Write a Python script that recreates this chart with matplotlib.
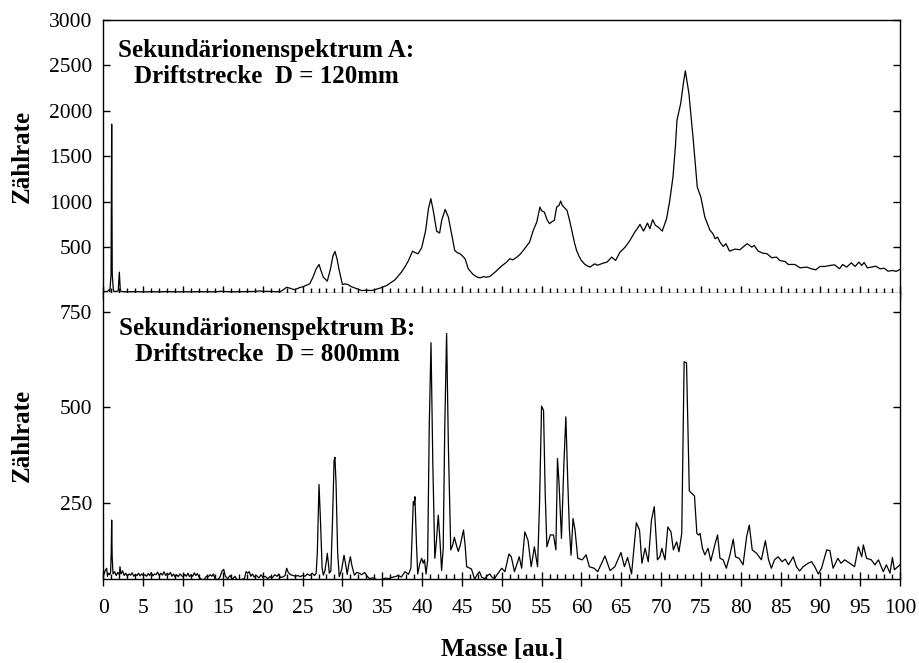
import matplotlib.pyplot as plt
from matplotlib.ticker import MultipleLocator

plt.rcParams['font.family'] = ['Liberation Serif', 'DejaVu Serif']

# ---------------------------------------------------------------- data
# spectrum A (D = 120mm): mass, counts
masseA = [0.0, 0.5, 0.7, 0.8, 0.95, 1.03, 1.1, 1.25, 1.6, 1.85, 1.99, 2.12, 2.4, 3.0, 4.0,
          5.0, 6.0, 7.0, 8.0, 9.0, 10.0, 11.0, 12.0, 13.0, 14.0, 14.8, 15.2, 16.0, 17.0, 18.0,
          19.0, 19.6, 20.0, 21.0, 22.2, 23.0, 23.5, 24.0, 24.5, 25.1, 25.9, 26.3, 26.7, 27.06,
          27.35, 27.6, 28.1, 28.5, 28.8, 29.06, 29.3, 29.6, 30.0, 30.3, 30.7, 31.1, 31.6, 32.4,
          33.0, 33.7, 34.2, 34.7, 35.55, 36.1, 36.6, 37.4, 37.9, 38.3, 38.8, 39.1, 39.5, 39.95,
          40.45, 40.8, 41.1, 41.4, 41.83, 42.2, 42.46, 42.9, 43.3, 43.7, 44.1, 44.4, 44.76,
          45.1, 45.4, 45.8, 46.4, 46.9, 47.3, 47.7, 48.1, 48.5, 48.9, 49.3, 49.6, 50.1, 50.6,
          51.0, 51.4, 51.9, 52.3, 52.7, 53.1, 53.5, 53.96, 54.4, 54.8, 55.0, 55.35, 55.7, 56.0,
          56.3, 56.6, 56.9, 57.2, 57.4, 57.6, 57.8, 58.2, 58.5, 58.8, 59.1, 59.4, 59.7, 60.0,
          60.45, 60.8, 61.1, 61.4, 61.7, 62.0, 62.3, 62.8, 63.2, 63.5, 63.8, 64.3, 64.85, 65.5,
          66.1, 66.7, 67.0, 67.35, 67.8, 68.3, 68.6, 68.95, 69.3, 69.65, 70.15, 70.7, 71.1,
          71.5, 71.8, 72.0, 72.47, 72.8, 73.05, 73.5, 74.05, 74.55, 75.0, 75.5, 76.15, 76.5,
          76.8, 77.1, 77.4, 77.8, 78.15, 78.6, 79.3, 79.9, 80.3, 80.8, 81.1, 81.4, 81.7, 82.2,
          82.75, 83.3, 83.9, 84.5, 84.9, 85.55, 85.98, 86.8, 87.45, 88.3, 88.9, 89.45, 89.95,
          90.6, 91.2, 91.8, 92.4, 92.8, 93.3, 93.9, 94.35, 94.85, 95.2, 95.5, 95.9, 96.45,
          96.95, 97.5, 98.0, 98.5, 99.1, 99.5, 100.0]
zaehlA = [10, 12, 30, 12, 200, 1853, 200, 15, 12, 18, 224, 18, 10, 8, 10,
          8, 9, 8, 10, 8, 9, 8, 10, 9, 8, 15, 12, 8, 9, 10,
          12, 18, 14, 12, 8, 58, 45, 30, 50, 66, 96, 169, 260, 309,
          230, 169, 125, 260, 400, 452, 380, 243, 88, 95, 88, 65, 48, 22,
          25, 22, 35, 48, 77, 110, 140, 224, 290, 353, 456, 440, 427, 493,
          684, 923, 1033, 904, 676, 654, 794, 915, 831, 647, 463, 440, 427,
          400, 372, 261, 199, 170, 162, 175, 169, 176, 206, 235, 261, 300, 334,
          372, 360, 390, 420, 463, 510, 555, 684, 776, 941, 900, 886, 800, 758,
          780, 794, 941, 960, 1007, 960, 941, 904, 800, 684, 560, 463, 400, 353,
          309, 290, 280, 300, 316, 300, 309, 325, 334, 360, 390, 353, 445, 500,
          574, 665, 700, 750, 676, 765, 702, 802, 739, 720, 676, 813, 1015,
          1272, 1600, 1897, 2081, 2300, 2441, 2192, 1677, 1161, 1051, 831, 684, 650,
          592, 610, 555, 507, 537, 456, 478, 471, 500, 537, 520, 500, 518, 456,
          434, 427, 383, 390, 353, 342, 309, 309, 272, 280, 261, 250, 287,
          287, 298, 305, 261, 309, 280, 327, 287, 334, 298, 331, 272, 280,
          290, 261, 268, 235, 243, 232, 254]

# spectrum B (D = 800mm)
masseB = [0.0, 0.2, 0.4, 0.5, 0.6, 0.8, 0.9, 0.97, 1.03, 1.09, 1.2, 1.4, 1.6, 1.8, 2.0,
          2.07, 2.2, 2.4, 2.6, 2.8, 3.0, 3.2, 3.4, 3.6, 3.8, 4.0, 4.2, 4.4, 4.6, 4.8, 5.0,
          5.2, 5.4, 5.6, 5.8, 6.0, 6.2, 6.4, 6.6, 6.8, 7.0, 7.2, 7.4, 7.6, 7.8, 8.0, 8.2,
          8.4, 8.6, 8.8, 9.0, 9.2, 9.4, 9.6, 9.8, 10.0, 10.2, 10.4, 10.6, 10.8, 11.0, 11.2,
          11.4, 11.6, 11.8, 12.0, 12.3, 12.6, 12.9, 13.1, 13.4, 13.6, 13.8, 14.0, 14.3, 14.6,
          14.9, 15.1, 15.3, 15.6, 15.9, 16.2, 16.5, 16.8, 17.1, 17.4, 17.7, 17.9, 18.1, 18.3,
          18.5, 18.7, 18.9, 19.2, 19.5, 19.8, 20.0, 20.3, 20.6, 20.9, 21.2, 21.5, 21.8, 22.0,
          22.2, 22.5, 22.8, 23.0, 23.2, 23.5, 23.8, 24.1, 24.4, 24.7, 25.0, 25.3, 25.6, 25.9,
          26.2, 26.5, 26.7, 26.85, 27.06, 27.25, 27.45, 27.6, 27.8, 28.0, 28.1, 28.25, 28.35,
          28.55, 28.75, 28.95, 29.06, 29.2, 29.4, 29.6, 29.9, 30.2, 30.4, 30.6, 30.8, 31.0,
          31.2, 31.5, 31.8, 32.1, 32.4, 32.8, 33.1, 33.4, 33.8, 34.2, 34.6, 35.0, 35.4, 35.8,
          36.2, 36.6, 37.0, 37.4, 37.85, 38.1, 38.3, 38.6, 38.9, 39.0, 39.1, 39.3, 39.45, 39.7,
          39.95, 40.15, 40.3, 40.5, 40.7, 40.9, 41.12, 41.35, 41.6, 41.8, 42.03, 42.25, 42.45,
          42.65, 42.85, 43.08, 43.3, 43.6, 43.85, 44.05, 44.3, 44.55, 44.8, 45.2, 45.4, 45.6,
          45.9, 46.2, 46.6, 46.9, 47.2, 47.5, 47.9, 48.2, 48.5, 48.8, 49.1, 49.5, 50.0, 50.4,
          50.9, 51.2, 51.6, 52.2, 52.5, 52.9, 53.3, 53.7, 54.1, 54.5, 54.75, 55.0, 55.25,
          55.45, 55.67, 56.1, 56.5, 56.8, 57.0, 57.2, 57.5, 57.8, 58.05, 58.3, 58.5, 58.7,
          58.95, 59.2, 59.55, 60.1, 60.6, 61.0, 61.6, 62.05, 62.96, 63.6, 64.2, 64.97, 65.4,
          65.8, 66.3, 66.9, 67.3, 67.6, 68.0, 68.4, 68.8, 69.15, 69.55, 69.85, 70.1, 70.5,
          70.85, 71.25, 71.55, 71.96, 72.25, 72.6, 72.9, 73.2, 73.55, 74.2, 74.5, 74.7, 74.9,
          75.2, 75.5, 75.9, 76.25, 76.8, 77.1, 77.4, 77.8, 78.2, 78.65, 79.07, 79.35, 79.8,
          80.3, 80.75, 81.08, 81.45, 82.0, 82.6, 83.1, 83.5, 83.85, 84.25, 84.7, 85.2, 85.6,
          86.0, 86.6, 87.0, 87.4, 87.85, 88.45, 88.9, 89.3, 89.75, 90.15, 90.8, 91.2, 91.6,
          92.2, 92.6, 93.05, 93.7, 94.3, 94.77, 95.2, 95.4, 95.8, 96.4, 96.85, 97.3, 97.9,
          98.3, 98.75, 99.05, 99.3, 100.0]
zaehlB = [60, 72, 79, 58, 66, 62, 70, 120, 205, 110, 64, 70, 60, 68, 62,
          83, 64, 72, 60, 66, 58, 64, 61, 67, 58, 63, 60, 66, 59, 64, 60,
          62, 58, 65, 60, 68, 59, 64, 62, 69, 60, 66, 61, 70, 60, 66, 62,
          68, 58, 64, 56, 62, 57, 64, 60, 56, 63, 58, 66, 57, 62, 58,
          67, 60, 65, 56, 50, 48, 58, 56, 62, 58, 64, 52, 48, 55,
          72, 76, 58, 52, 60, 50, 58, 48, 47, 50, 52, 70, 66, 70,
          58, 64, 56, 60, 54, 62, 55, 58, 52, 57, 54, 62, 58, 64,
          55, 56, 60, 79, 68, 62, 60, 58, 60, 57, 60, 58, 64, 60,
          66, 60, 65, 120, 298, 200, 80, 61, 72, 100, 118, 90, 66,
          72, 200, 360, 369, 300, 120, 57, 75, 113, 90, 63, 90, 109,
          85, 61, 68, 66, 62, 68, 58, 52, 54, 50, 48, 50, 53, 52,
          55, 57, 60, 56, 70, 66, 63, 80, 253, 245, 266, 140, 64, 90,
          105, 92, 101, 64, 100, 450, 669, 350, 105, 150, 218, 150, 73,
          130, 450, 693, 400, 127, 140, 160, 140, 123, 140, 179, 140, 83,
          80, 77, 50, 62, 70, 55, 52, 60, 64, 55, 52, 65, 79, 70,
          116, 109, 70, 109, 79, 174, 152, 83, 135, 83, 250, 503, 492,
          280, 135, 166, 166, 127, 366, 300, 157, 350, 475, 300, 180, 113,
          209, 179, 105, 101, 114, 83, 79, 70, 111, 73, 83, 120, 83,
          107, 64, 198, 179, 92, 131, 96, 205, 240, 101, 109, 131, 101,
          187, 174, 127, 148, 122, 170, 619, 616, 281, 268, 170, 166, 170,
          131, 114, 131, 98, 144, 166, 105, 101, 79, 114, 155, 109, 105,
          88, 162, 192, 127, 118, 101, 151, 101, 79, 101, 109, 96, 103,
          88, 109, 83, 72, 83, 92, 96, 83, 64, 79, 127, 125, 79,
          105, 92, 101, 92, 83, 135, 109, 140, 105, 101, 88, 101, 70,
          88, 66, 107, 75, 88]

yticksA = [500, 1000, 1500, 2000, 2500, 3000]
yticksB = [250, 500, 750]
xticks = [0, 5, 10, 15, 20, 25, 30, 35, 40, 45, 50, 55, 60, 65, 70, 75, 80, 85, 90, 95, 100]

# ---------------------------------------------------------------- figure
fig, (axA, axB) = plt.subplots(2, 1, figsize=(9.19, 6.63), dpi=100, sharex=True,
                               gridspec_kw={'height_ratios': [272.5, 286.8], 'hspace': 0})
fig.subplots_adjust(left=0.1126, right=0.9793, top=0.9698, bottom=0.1262)

axA.plot(masseA, zaehlA, color='black', lw=0.9)
axB.plot(masseB, zaehlB, color='black', lw=0.9)

axA.set_ylim(0, 3000)
axB.set_ylim(50, 800)
axB.set_xlim(0, 100)
axA.set_yticks(yticksA)
axB.set_yticks(yticksB)
axB.set_xticks(xticks)

for ax in (axA, axB):
    ax.xaxis.set_minor_locator(MultipleLocator(1))
    ax.tick_params(axis='x', which='major', direction='inout', length=10.5, width=1,
                   top=False, labelsize=15.5, pad=9)
    ax.tick_params(axis='x', which='minor', direction='in', length=3.3, width=1, top=False)
    ax.tick_params(axis='y', which='major', direction='in', length=5, width=1,
                   right=True, labelsize=15.5, pad=8)
    for s in ax.spines.values():
        s.set_linewidth(1)
    ax.set_ylabel('Zählrate', fontsize=18, fontweight='bold')
    ax.yaxis.set_label_coords(-0.088, 0.5)

axA.tick_params(axis='x', labelbottom=False)
axB.spines['top'].set_visible(False)

axA.text(0.204, 0.93, 'Sekundärionenspektrum A:\nDriftstrecke  D = 120mm',
         transform=axA.transAxes, ha='center', va='top', fontsize=18,
         fontweight='bold', linespacing=1.15)
axB.text(0.206, 0.915, 'Sekundärionenspektrum B:\nDriftstrecke  D = 800mm',
         transform=axB.transAxes, ha='center', va='top', fontsize=18,
         fontweight='bold', linespacing=1.15)

axB.set_xlabel('Masse [au.]', fontsize=18, fontweight='bold', labelpad=14)

plt.savefig('out.png', dpi=100)
